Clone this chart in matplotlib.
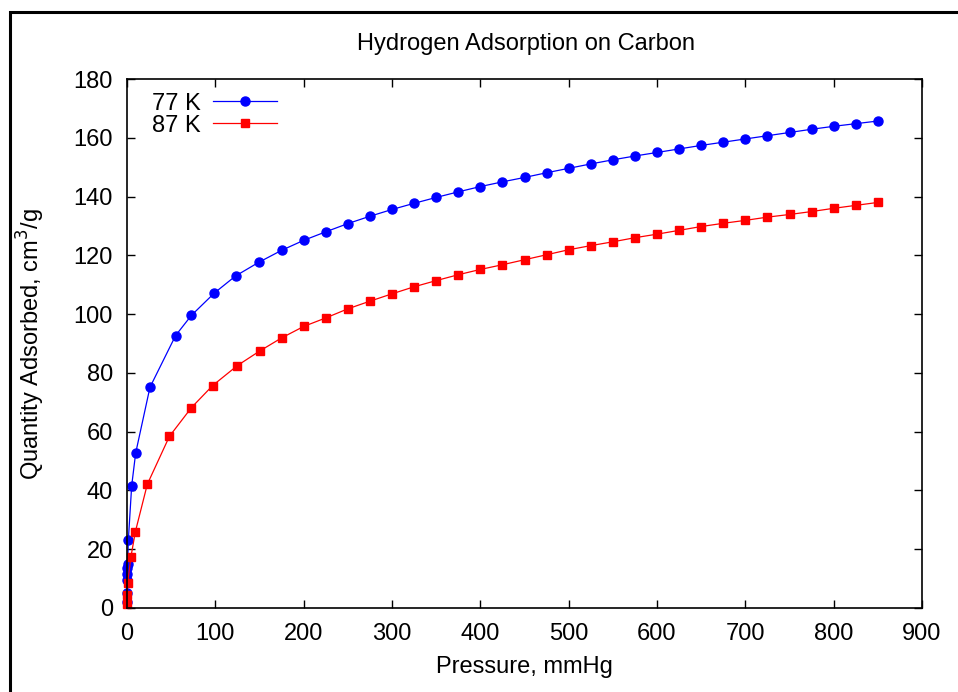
import matplotlib
matplotlib.use('Agg')
import matplotlib.pyplot as plt
from matplotlib.patches import Rectangle

plt.rcParams['font.family'] = ['Liberation Sans', 'DejaVu Sans']

# 77 K isotherm (pressure in mmHg, quantity in cm3/g)
p77 = [0.01, 0.05, 0.1, 0.3, 0.5, 0.8, 1.5, 5.3, 9.8, 26, 55, 73, 99,
       123, 149, 175, 200, 225, 250, 275, 300, 325, 350, 375, 400, 425,
       450, 475, 500, 525, 550, 575, 600, 625, 650, 675, 700, 725, 750,
       775, 800, 825, 850]
q77 = [2.0, 5.0, 9.5, 11.5, 13.5, 15.0, 23.0, 41.6, 52.7, 75.1, 92.7, 99.6, 107.2,
       113.0, 117.6, 121.7, 125.1, 128.0, 130.8, 133.3, 135.6, 137.7, 139.7, 141.6, 143.4, 145.0,
       146.5, 148.1, 149.6, 151.1, 152.5, 153.8, 155.0, 156.2, 157.4, 158.5, 159.6, 160.7, 161.8,
       162.9, 163.9, 164.8, 165.7]

# 87 K isotherm
p87 = [0.05, 0.2, 0.8, 4.5, 9.5, 23, 48, 73, 97, 125, 150, 175, 200,
       225, 250, 275, 300, 325, 350, 375, 400, 425, 450, 475, 500, 525,
       550, 575, 600, 625, 650, 675, 700, 725, 750, 775, 800, 825, 850]
q87 = [1.4, 4.3, 8.6, 17.5, 26.0, 42.1, 58.4, 68.2, 75.7, 82.5, 87.4, 91.9, 95.8,
       98.7, 101.8, 104.4, 106.9, 109.3, 111.4, 113.4, 115.2, 116.8, 118.5, 120.2, 121.9, 123.3,
       124.6, 126.0, 127.2, 128.5, 129.8, 130.9, 131.9, 133.0, 133.9, 134.9, 136.0, 137.0, 138.0]

FS = 17

fig = plt.figure(figsize=(9.58, 6.92), dpi=100)
ax = fig.add_axes([127 / 958, 1 - 608 / 692, 795 / 958, 529 / 692])

ax.plot(p77, q77, color='#0000ff', lw=0.9, marker='o', ms=6.5, label='77 K', clip_on=False)
ax.plot(p87, q87, color='#ff0000', lw=0.9, marker='s', ms=6, label='87 K', clip_on=False)

ax.set_xlim(0, 900)
ax.set_ylim(0, 180)
ax.set_xticks(range(0, 901, 100))
ax.set_yticks(range(0, 181, 20))
ax.tick_params(direction='in', length=6, width=1, labelsize=FS,
               top=True, right=True)
ax.tick_params(axis='x', pad=11)
ax.tick_params(axis='y', pad=10)
for s in ax.spines.values():
    s.set_linewidth(1.2)

ax.set_xlabel('Pressure, mmHg', fontsize=FS, labelpad=8)
ax.set_ylabel('Quantity Adsorbed, cm$^3$/g', fontsize=FS, labelpad=19)
fig.text(526 / 958, 1 - 44 / 692, 'Hydrogen Adsorption on Carbon',
         ha='center', va='center', fontsize=FS)

ax.legend(loc='upper left', frameon=False, markerfirst=False, fontsize=FS,
          handlelength=2.7, handletextpad=0.5, numpoints=1, borderaxespad=0.0,
          labelspacing=0.0, bbox_to_anchor=(0.02, 0.992))

# outer frame (left and top edges visible)
fig.patches.append(Rectangle((9.5 / 958, -0.1), 1.2, 1.1 - 12 / 692,
                             transform=fig.transFigure, fill=False,
                             edgecolor='black', lw=2.2))

fig.savefig('out.png', dpi=100)
